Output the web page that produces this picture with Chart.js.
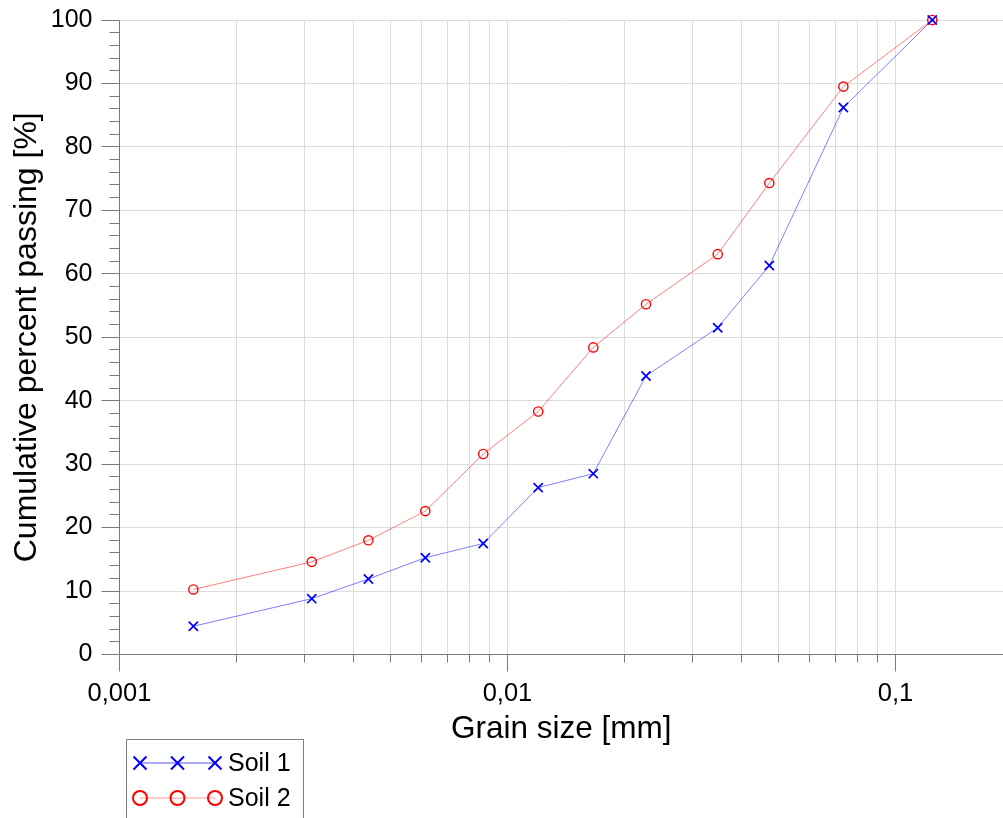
<!DOCTYPE html>
<html>
<head>
<meta charset="utf-8">
<script src="https://cdn.jsdelivr.net/npm/chart.js@4.4.1/dist/chart.umd.min.js"></script>
<style>
html, body { margin: 0; padding: 0; background: #fff; }
canvas { display: block; }
</style>
</head>
<body>
<canvas id="chartSoil" width="1003" height="818"></canvas>
<script>
// grain size [mm] of each reading, shared by both soils
const grainSize = [0.00155, 0.00313, 0.00438, 0.00614, 0.00866, 0.0120, 0.01664, 0.02275, 0.03482, 0.0473, 0.0734, 0.1244];
// cumulative percent passing [%]
const soil1 = [4.45, 8.8, 11.9, 15.25, 17.5, 26.3, 28.5, 43.9, 51.5, 61.3, 86.2, 100];
const soil2 = [10.25, 14.6, 18.0, 22.6, 31.6, 38.3, 48.4, 55.2, 63.1, 74.3, 89.5, 100];
const seriesNames = ['Soil 1', 'Soil 2'];

const xMajorTicks = [0.001, 0.01, 0.1];
const xTickLabels = ['0,001', '0,01', '0,1'];
const xMin = 0.001, xMax = 0.1893;
const yMin = 0, yMax = 100, yStep = 10, yMinorStep = 2;

const FONT = 'Liberation Sans, Arial, sans-serif';
const axisColor = '#7a7a7a';
const gridColor = '#dcdcdc';

// all log ticks 1..9 per decade, up to the last major
const xTickValues = [];
xMajorTicks.forEach(function (m, i) {
    const last = i === xMajorTicks.length - 1;
    for (let k = 1; k <= (last ? 1 : 9); k++) xTickValues.push(+(m * k).toPrecision(3));
});

function crisp(p) { return Math.round(p - 0.5) + 0.5; }

function drawCross(ctx, x, y, r) {
    ctx.beginPath();
    ctx.moveTo(x - r, y - r); ctx.lineTo(x + r, y + r);
    ctx.moveTo(x - r, y + r); ctx.lineTo(x + r, y - r);
    ctx.stroke();
}

const axesAndLegend = {
    id: 'axesAndLegend',
    afterDraw: function (chart) {
        const ctx = chart.ctx;
        const a = chart.chartArea;
        const xs = chart.scales.x, ys = chart.scales.y;
        const L = crisp(a.left), B = crisp(a.bottom);
        ctx.save();
        ctx.strokeStyle = axisColor;
        ctx.lineWidth = 1;
        ctx.beginPath();
        ctx.moveTo(L, crisp(a.top)); ctx.lineTo(L, B);
        ctx.moveTo(L, B); ctx.lineTo(chart.width, B);
        // y ticks
        for (let v = yMin; v <= yMax; v += yMinorStep) {
            const py = crisp(ys.getPixelForValue(v));
            const len = v % yStep === 0 ? 18 : 10;
            ctx.moveTo(L - len, py); ctx.lineTo(L, py);
        }
        // x ticks
        xTickValues.forEach(function (v) {
            const px = crisp(xs.getPixelForValue(v));
            const len = xMajorTicks.indexOf(v) >= 0 ? 17 : 8;
            ctx.moveTo(px, B); ctx.lineTo(px, B + len);
        });
        ctx.stroke();

        // legend box
        const bx = 126.5, by = 739.5;
        ctx.strokeStyle = '#808080';
        ctx.strokeRect(bx, by, 177, 100);
        const rows = [
            { y: 763, line: '#5a5aff', mark: '#0000ff', style: 'cross' },
            { y: 798, line: '#ff9a9a', mark: '#ff0000', style: 'circle' }
        ];
        const mx = [140, 177.5, 215];
        rows.forEach(function (r, i) {
            ctx.strokeStyle = r.line;
            ctx.lineWidth = 1.2;
            ctx.beginPath();
            ctx.moveTo(mx[0], r.y); ctx.lineTo(mx[2], r.y);
            ctx.stroke();
            ctx.strokeStyle = r.mark;
            ctx.lineWidth = 2;
            mx.forEach(function (x) {
                if (r.style === 'cross') {
                    drawCross(ctx, x, r.y, 6.5);
                } else {
                    ctx.beginPath();
                    ctx.arc(x, r.y, 7, 0, Math.PI * 2);
                    ctx.stroke();
                }
            });
            ctx.fillStyle = '#000';
            ctx.font = '25px ' + FONT;
            ctx.textBaseline = 'middle';
            ctx.textAlign = 'left';
            ctx.fillText(seriesNames[i], 228, r.y + 1);
        });
        ctx.restore();
    }
};

const ctxSoil = document.getElementById('chartSoil').getContext('2d');
const chartSoil = new Chart(ctxSoil, {
    type: 'scatter',
    data: {
        datasets: [{
            label: seriesNames[0],
            data: grainSize.map(function (x, i) { return { x: x, y: soil1[i] }; }),
            showLine: true,
            borderColor: 'rgba(0, 0, 255, 0.5)',
            borderWidth: 1,
            pointStyle: 'crossRot',
            pointRadius: 6.5,
            pointBorderColor: '#0000ff',
            pointBorderWidth: 1.7,
            pointBackgroundColor: 'transparent',
            clip: false
        }, {
            label: seriesNames[1],
            data: grainSize.map(function (x, i) { return { x: x, y: soil2[i] }; }),
            showLine: true,
            borderColor: 'rgba(255, 0, 0, 0.5)',
            borderWidth: 1,
            pointStyle: 'circle',
            pointRadius: 4.6,
            pointBorderColor: '#ff0000',
            pointBorderWidth: 1.4,
            pointBackgroundColor: 'transparent',
            clip: false
        }]
    },
    options: {
        responsive: false,
        animation: false,
        events: [],
        layout: { autoPadding: false, padding: { top: 20, right: 0, bottom: 0, left: 0 } },
        plugins: {
            legend: { display: false },
            tooltip: { enabled: false }
        },
        scales: {
            x: {
                type: 'logarithmic',
                min: xMin,
                max: xMax,
                afterBuildTicks: function (scale) {
                    scale.ticks = xTickValues.map(function (v) { return { value: v, major: false }; });
                },
                afterFit: function (scale) {
                    scale.height = 163.5;
                    scale.paddingLeft = 0;
                    scale.paddingRight = 0;
                },
                ticks: {
                    autoSkip: false,
                    maxRotation: 0,
                    padding: 24,
                    color: '#000',
                    font: { family: FONT, size: 25.5 },
                    callback: function (value) {
                        const i = xMajorTicks.indexOf(+(+value).toPrecision(3));
                        return i >= 0 ? xTickLabels[i] : '';
                    }
                },
                grid: { color: gridColor, drawTicks: false },
                border: { display: false },
                title: {
                    display: true,
                    text: 'Grain size [mm]',
                    color: '#000',
                    font: { family: FONT, size: 31.5 },
                    padding: { top: 0, bottom: 70 }
                }
            },
            y: {
                min: yMin,
                max: yMax,
                afterFit: function (scale) {
                    scale.width = 119.5;
                    scale.paddingTop = 0;
                    scale.paddingBottom = 0;
                },
                ticks: {
                    stepSize: yStep,
                    padding: 27,
                    color: '#000',
                    font: { family: FONT, size: 25 }
                },
                grid: { color: gridColor, drawTicks: false },
                border: { display: false },
                title: {
                    display: true,
                    text: 'Cumulative percent passing [%]',
                    color: '#000',
                    font: { family: FONT, size: 32 },
                    padding: { top: 8, bottom: 0 }
                }
            }
        }
    },
    plugins: [axesAndLegend]
});
</script>
</body>
</html>
